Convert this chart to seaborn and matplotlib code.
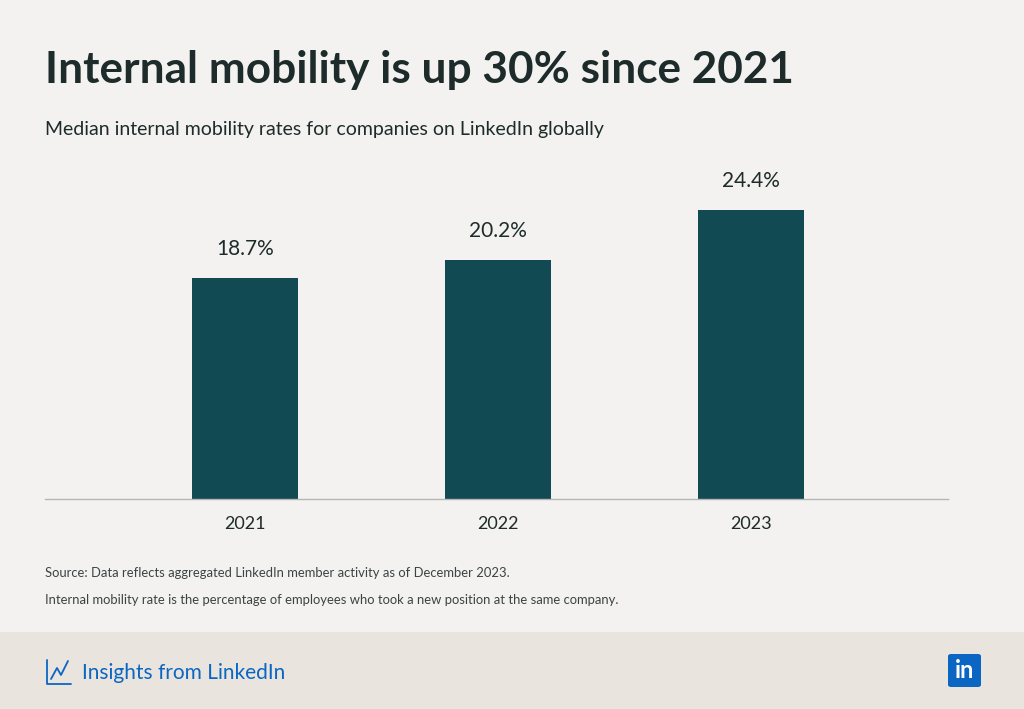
import matplotlib
matplotlib.use("Agg")
import matplotlib.pyplot as plt
import seaborn as sns
from matplotlib.patches import Rectangle, FancyBboxPatch

years = ["2021", "2022", "2023"]
rates = [18.7, 20.2, 24.4]
labels = ["18.7%", "20.2%", "24.4%"]

sns.set_theme(style="white")
plt.rcParams["font.family"] = ["Lato", "DejaVu Sans"]

bg = "#F3F2F0"
ink = "#1E2B2B"
fig = plt.figure(figsize=(10.24, 7.09), dpi=100, facecolor=bg)
W, H = 1024, 709

# footer band
fig.patches.append(Rectangle((0, 0), 1, 1 - 632 / H, transform=fig.transFigure,
                             facecolor="#E9E4DE", edgecolor="none", zorder=0))

ax = fig.add_axes([45 / W, 1 - 499 / H, 903 / W, 329 / H])
ax.set_facecolor(bg)
sns.barplot(x=years, y=rates, color="#114A52", width=0.42, saturation=1, linewidth=0, ax=ax)
ax.set_xlim(-0.79, 2.78)
ax.set_ylim(0, 27.8)
for i, (v, t) in enumerate(zip(rates, labels)):
    ax.text(i, v + 1.6, t, ha="center", va="bottom", fontsize=15, color=ink)
for s in ["top", "right", "left"]:
    ax.spines[s].set_visible(False)
ax.spines["bottom"].set_color("#B5B5B5")
ax.spines["bottom"].set_linewidth(1)
ax.set_yticks([])
ax.tick_params(axis="x", length=0, pad=12, labelsize=13, labelcolor=ink)

fig.text(45 / W, 1 - 70 / H, "Internal mobility is up 30% since 2021", fontsize=31.8,
         fontweight="bold", color=ink, va="center")
fig.text(45 / W, 1 - 129 / H, "Median internal mobility rates for companies on LinkedIn globally",
         fontsize=14, color=ink, va="center")
fig.text(45 / W, 1 - 573 / H, "Source: Data reflects aggregated LinkedIn member activity as of December 2023.",
         fontsize=9.4, color="#3A4444", va="center")
fig.text(45 / W, 1 - 600 / H, "Internal mobility rate is the percentage of employees who took a new position at the same company.",
         fontsize=9.4, color="#3A4444", va="center")

# footer branding
blue = "#0A66C2"
fig.lines.append(plt.Line2D([47 / W, 47 / W, 71 / W], [1 - 660 / H, 1 - 684 / H, 1 - 684 / H],
                            transform=fig.transFigure, color=blue, lw=1.3))
fig.lines.append(plt.Line2D([51 / W, 57 / W, 61 / W, 68 / W], [1 - 679 / H, 1 - 668 / H, 1 - 675 / H, 1 - 661 / H],
                            transform=fig.transFigure, color=blue, lw=1.3))
fig.text(82 / W, 1 - 673 / H, "Insights from LinkedIn", fontsize=15, color=blue, va="center")
fig.patches.append(FancyBboxPatch((948 / W, 1 - 687 / H), 33 / W, 33 / H, transform=fig.transFigure,
                                  boxstyle="round,pad=0,rounding_size=0.003", facecolor=blue, edgecolor="none"))
fig.text(964.5 / W, 1 - 671 / H, "in", fontsize=17, fontweight="bold", color="white",
         ha="center", va="center")

fig.savefig("out.png", dpi=100, facecolor=bg)
